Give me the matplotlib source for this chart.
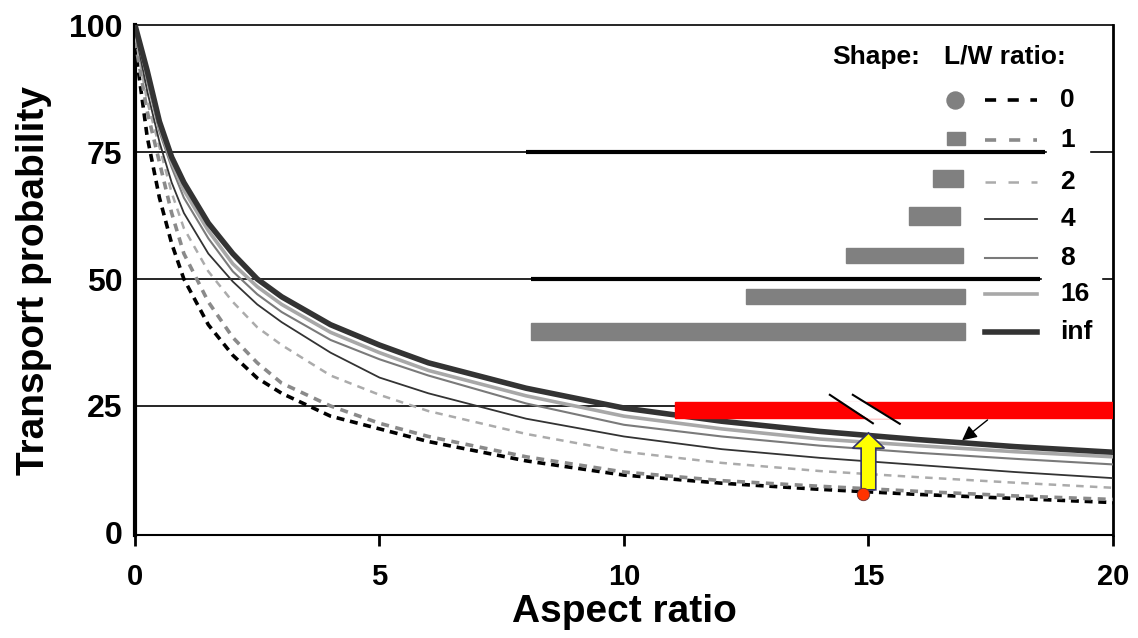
import numpy as np
import matplotlib
matplotlib.use("Agg")
import matplotlib.pyplot as plt
from matplotlib.patches import Rectangle, Polygon, FancyArrow

plt.rcParams['font.family'] = ['Liberation Sans', 'DejaVu Sans']
plt.rcParams['font.weight'] = 'bold'

# Data
aspect = [0, 0.25, 0.5, 0.75, 1, 1.5, 2, 2.5, 3, 4, 5, 6, 8, 10, 12, 14, 16, 18, 20]
p_lw0 = [96, 78, 66, 57, 50, 41, 35, 30.5, 27.5, 23, 20.5, 18, 14.2, 11.4, 9.8, 8.6, 7.6, 6.8, 6.0]
p_lw1 = [97, 83, 73, 63, 55, 45.5, 38.5, 33.5, 29.5, 25, 21.6, 19, 15, 12, 10.3, 9.2, 8.2, 7.3, 6.6]
p_lw2 = [98, 85, 76, 67, 60, 51.5, 45.5, 40.5, 37, 31, 27.2, 24, 19.5, 16, 13.8, 12.2, 11, 9.9, 8.9]
p_lw4 = [99, 87, 77, 69, 63, 55, 49.5, 45, 41.5, 35.5, 30.6, 27.5, 22.5, 19, 16.5, 14.8, 13.4, 12, 10.8]
p_lw8 = [100, 89, 79, 72, 66, 58, 51.5, 47, 43.5, 38, 34.2, 31, 25.5, 21.3, 19, 17.2, 15.8, 14.6, 13.5]
p_lw16 = [100, 90, 80, 73, 67.5, 59.5, 53, 48.5, 45, 39.5, 35.5, 32, 27, 23, 20.5, 18.5, 17.2, 16, 15]
p_lwinf = [100, 91, 81, 74, 69, 61, 55, 50, 46.5, 41, 37, 33.5, 28.5, 24.6, 22, 20, 18.4, 17, 15.9]

lw_labels = ["0", "1", "2", "4", "8", "16", "inf"]
series = [p_lw0, p_lw1, p_lw2, p_lw4, p_lw8, p_lw16, p_lwinf]

# styles: color, linewidth, dashes (None = solid)
styles = [
    ("#000000", 2.6, (2.2, 1.6)),
    ("#8a8a8a", 2.6, (2.2, 1.8)),
    ("#ababab", 1.8, (3.0, 2.5)),
    ("#333333", 1.3, None),
    ("#7a7a7a", 1.5, None),
    ("#a8a8a8", 2.6, None),
    ("#333333", 4.0, None),
]

# shape bars of the legend (x0, x1, y0, y1), circle for 0
shape_boxes = [
    (16.60, 16.97, 76.4, 78.9),
    (16.32, 16.93, 68.1, 71.5),
    (15.83, 16.87, 60.6, 64.2),
    (14.54, 16.93, 53.1, 56.1),
    (12.49, 16.97, 45.1, 48.0),
    (8.10, 16.97, 38.0, 41.3),
]
legend_y = [85.2, 77.4, 69.1, 61.8, 54.1, 47.0, 39.6]

fig = plt.figure(figsize=(11.38, 6.38), dpi=100)
ax = fig.add_axes([0.1186, 0.1614, 0.8594, 0.7994])
ax.set_xlim(0, 20)
ax.set_ylim(-0.4, 100)

# gridlines
for yv in [25, 50, 75]:
    ax.axhline(yv, color="black", lw=1.2, zorder=1)
ax.plot([7.99, 18.6], [75, 75], color="black", lw=3, zorder=1, solid_capstyle="butt")
ax.plot([8.10, 18.5], [50, 50], color="black", lw=3, zorder=1, solid_capstyle="butt")
ax.add_patch(Rectangle((18.65, 73), 0.85, 4, color="white", zorder=2))
ax.add_patch(Rectangle((18.55, 48), 1.2, 4, color="white", zorder=2))

# curves
for ys, (c, lw, ds) in zip(series, styles):
    line, = ax.plot(aspect, ys, color=c, lw=lw, zorder=3)
    if ds is not None:
        line.set_dashes(ds)

# legend
ax.text(14.25, 93.8, "Shape:", fontsize=19, ha="left", va="center", zorder=6)
ax.text(16.55, 93.8, "L/W ratio:", fontsize=19, ha="left", va="center", zorder=6)
ax.scatter([16.77], [legend_y[0]], s=150, color="#808080", zorder=5)
for (x0, x1, y0, y1) in shape_boxes:
    ax.add_patch(Rectangle((x0, y0), x1 - x0, y1 - y0, color="#808080", zorder=5))
for yv, lab, (c, lw, ds) in zip(legend_y, lw_labels, styles):
    line, = ax.plot([17.38, 18.45], [yv, yv], color=c, lw=lw, zorder=5)
    if ds is not None:
        line.set_dashes((ds[0] * 1.4, ds[1] * 2.0))
    ax.text(18.92, yv, lab, fontsize=19, ha="left", va="center", zorder=6)

# red bar with break
ax.add_patch(Rectangle((11.04, 22.6), 20 - 11.04, 3.2, color="#ff0000", zorder=4))
ax.add_patch(Polygon([(14.45, 25.8), (14.9, 25.8), (15.45, 22.6), (15.0, 22.6)],
                     closed=True, color="white", zorder=4))
ax.plot([14.21, 15.09], [27.2, 21.6], color="black", lw=1.5, zorder=5)
ax.plot([14.68, 15.64], [27.2, 21.5], color="black", lw=1.5, zorder=5)
ax.annotate("", xy=(16.87, 17.9), xytext=(17.48, 22.6),
            arrowprops=dict(arrowstyle="-|>", color="black", lw=1, mutation_scale=22),
            zorder=5)

# yellow arrow and red dot
ax.add_patch(FancyArrow(15.0, 8.5, 0, 11.2, width=0.3, head_width=0.65, head_length=3.0,
                        length_includes_head=True, fc="#ffff00", ec="#333366", lw=1.2, zorder=6))
ax.scatter([14.89], [7.7], s=80, color="#ff3300", edgecolors="#663333", linewidths=0.6, zorder=7)

# axes styling
ax.set_xticks([0, 5, 10, 15, 20])
ax.set_yticks([0, 25, 50, 75, 100])
ax.tick_params(axis="x", direction="out", length=8, width=2, labelsize=21, pad=12)
ax.tick_params(axis="y", length=0, labelsize=23, pad=9)
for lab in ax.get_xticklabels() + ax.get_yticklabels():
    lab.set_fontweight("bold")
ax.spines["left"].set_linewidth(3)
ax.spines["bottom"].set_linewidth(1.5)
ax.spines["top"].set_linewidth(1.2)
ax.spines["right"].set_linewidth(2)
ax.set_xlabel("Aspect ratio", fontsize=28, fontweight="bold", labelpad=2)
ax.set_ylabel("Transport probability", fontsize=28, fontweight="bold", labelpad=12)

fig.savefig("out.png", dpi=100)
